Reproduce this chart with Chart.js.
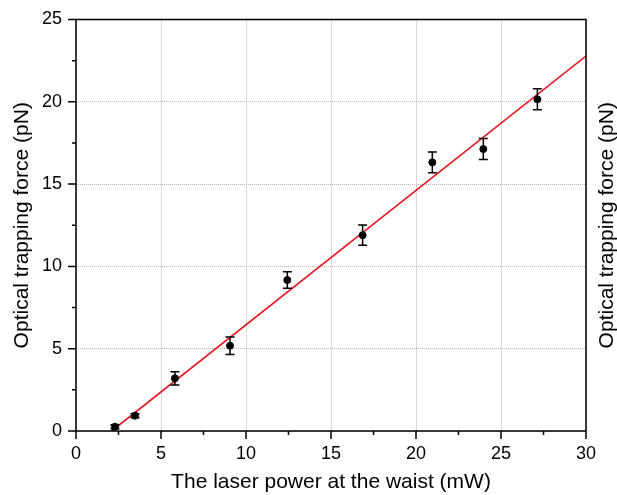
<!DOCTYPE html>
<html><head><meta charset="utf-8">
<script src="https://cdn.jsdelivr.net/npm/chart.js@4/dist/chart.umd.min.js"></script>
<style>html,body{margin:0;padding:0;background:#fff;}#wrap{width:617px;height:495px;}</style>
</head><body><div id="wrap"><canvas id="c"></canvas></div>
<script>
const powerX = [2.29, 3.47, 5.82, 9.06, 12.43, 16.86, 20.96, 23.96, 27.14];
const forceY = [0.26, 0.93, 3.2, 5.18, 9.17, 11.9, 16.32, 17.13, 20.15];
const forceErr = [0.12, 0.12, 0.4, 0.53, 0.5, 0.61, 0.63, 0.64, 0.64];
const fitX = [2.1, 30];
const fitY = [0, 22.78];
const xTitle = 'The laser power at the waist (mW)';
const yTitle = 'Optical trapping force (pN)';

const FONT = "'Liberation Sans', Arial, sans-serif";

const framePlugin = {
  id: 'frame',
  afterDatasetsDraw(chart) {
    const {ctx, chartArea: a, scales} = chart;
    const xs = scales.x, ys = scales.y;
    ctx.save();
    ctx.strokeStyle = '#000';
    ctx.lineWidth = 1.5;
    forceY.forEach((v, i) => {
      const px = xs.getPixelForValue(powerX[i]);
      const top = ys.getPixelForValue(v + forceErr[i]);
      const bot = ys.getPixelForValue(v - forceErr[i]);
      ctx.beginPath();
      ctx.moveTo(px, top); ctx.lineTo(px, bot);
      ctx.moveTo(px - 4.5, top); ctx.lineTo(px + 4.5, top);
      ctx.moveTo(px - 4.5, bot); ctx.lineTo(px + 4.5, bot);
      ctx.stroke();
    });
    ctx.restore();
  },
  afterDraw(chart) {
    const {ctx, chartArea: a, scales} = chart;
    const xs = scales.x, ys = scales.y;
    ctx.save();
    ctx.strokeStyle = '#000';
    ctx.lineWidth = 1.5;
    ctx.strokeRect(a.left, a.top, a.right - a.left, a.bottom - a.top);
    ctx.beginPath();
    for (let v = 0; v <= 30; v += 2.5) {
      const px = xs.getPixelForValue(v);
      const len = (v % 5 === 0) ? 8 : 4;
      ctx.moveTo(px, a.bottom); ctx.lineTo(px, a.bottom + len);
    }
    for (let v = 0; v <= 25; v += 2.5) {
      const py = ys.getPixelForValue(v);
      const len = (v % 5 === 0) ? 8 : 4;
      ctx.moveTo(a.left, py); ctx.lineTo(a.left - len, py);
    }
    ctx.stroke();
    ctx.fillStyle = '#000';
    ctx.font = '21px ' + FONT;
    ctx.textAlign = 'center';
    ctx.textBaseline = 'middle';
    ctx.translate(a.right + 21, (a.top + a.bottom) / 2);
    ctx.rotate(-Math.PI / 2);
    ctx.fillText(yTitle, 0, 0);
    ctx.restore();
  }
};

new Chart(document.getElementById('c'), {
  type: 'scatter',
  data: {
    datasets: [
      {
        type: 'line',
        data: fitX.map((x, i) => ({x, y: fitY[i]})),
        borderColor: '#e8101a',
        borderWidth: 1.6,
        pointRadius: 0,
        fill: false,
        order: 2
      },
      {
        data: powerX.map((x, i) => ({x, y: forceY[i]})),
        backgroundColor: '#000',
        borderColor: '#000',
        pointRadius: 3.5,
        pointHoverRadius: 3.5,
        order: 1
      }
    ]
  },
  plugins: [framePlugin],
  options: {
    responsive: true,
    maintainAspectRatio: false,
    animation: false,
    layout: {padding: {top: 19.5, right: 31, bottom: 0, left: 0}},
    plugins: {legend: {display: false}, tooltip: {enabled: false}},
    scales: {
      x: {
        type: 'linear', min: 0, max: 30,
        afterFit(s) { s.height = 64; s.paddingLeft = 0; s.paddingRight = 0; },
        border: {display: false, dash: [1, 1]},
        grid: {color: '#b4b4b4', lineWidth: 1, drawTicks: false},
        ticks: {stepSize: 5, padding: 12, color: '#000', font: {family: FONT, size: 18}},
        title: {display: true, text: xTitle, color: '#000', font: {family: FONT, size: 21}, padding: {top: 0, bottom: 0}}
      },
      y: {
        type: 'linear', min: 0, max: 25,
        afterFit(s) { s.width = 76; s.paddingTop = 0; s.paddingBottom = 0; },
        border: {display: false, dash: [1, 1]},
        grid: {color: '#b4b4b4', lineWidth: 1, drawTicks: false},
        ticks: {stepSize: 5, padding: 14, color: '#000', font: {family: FONT, size: 18}},
        title: {display: true, text: yTitle, color: '#000', font: {family: FONT, size: 21}, padding: {top: 10, bottom: 0}}
      }
    }
  }
});
</script></body></html>
